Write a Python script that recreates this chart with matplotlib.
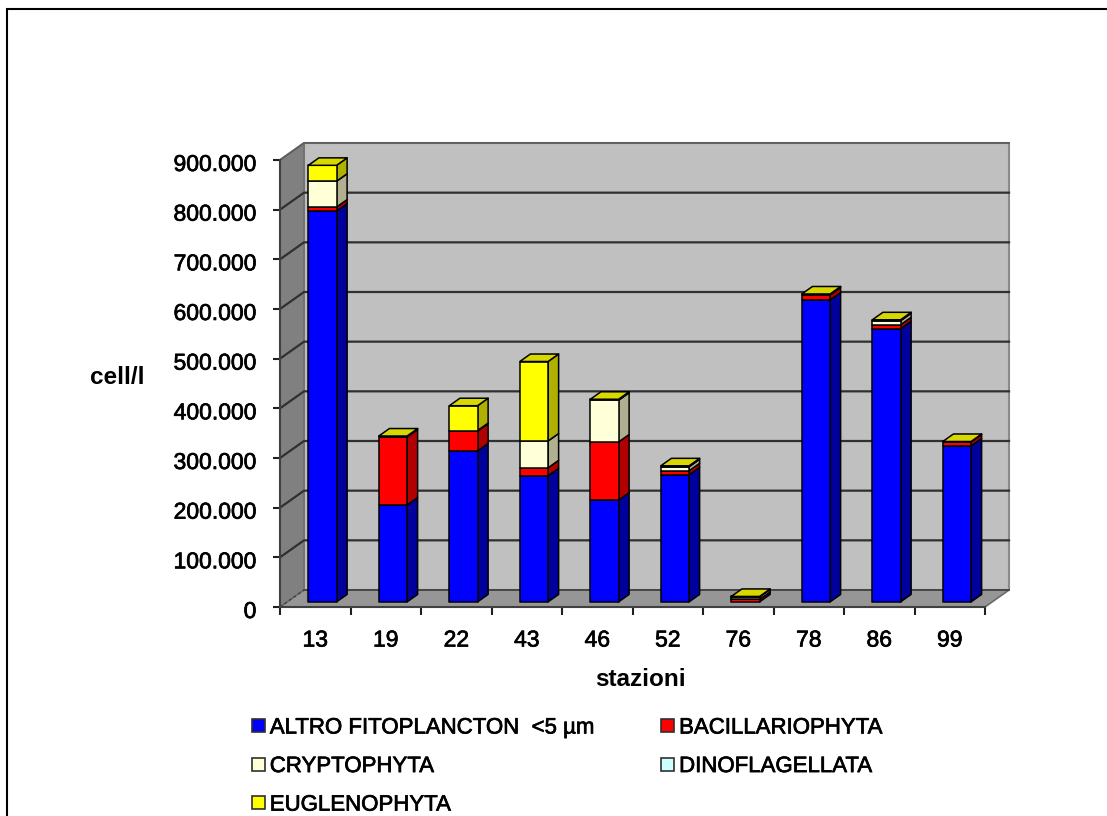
"""Stacked pseudo-3D bars of phytoplankton density per sampling station."""
import matplotlib
matplotlib.use('Agg')
import matplotlib.pyplot as plt
import matplotlib.patheffects as pe
from matplotlib.lines import Line2D
from matplotlib.patches import Polygon
from matplotlib.transforms import ScaledTranslation

stations = ['13', '19', '22', '43', '46', '52', '76', '78', '86', '99']
altro = [787000, 195000, 304000, 254000, 205000, 256000, 0, 608000, 550000, 314000]
bacillariophyta = [8000, 137000, 40000, 16000, 117000, 8000, 5000, 10000, 8000, 8000]
cryptophyta = [52000, 0, 1000, 54000, 84000, 8000, 5000, 0, 8000, 0]
dinoflagellata = [0, 0, 0, 0, 0, 0, 0, 0, 0, 0]
euglenophyta = [32000, 2000, 50000, 160000, 2000, 2000, 1000, 2000, 2000, 1000]

series = [
    ('ALTRO FITOPLANCTON  <5 µm', altro, '#0000FF', '#00009C'),
    ('BACILLARIOPHYTA', bacillariophyta, '#FF0000', '#B00000'),
    ('CRYPTOPHYTA', cryptophyta, '#FFFFD8', '#B0B090'),
    ('DINOFLAGELLATA', dinoflagellata, '#CCFFFF', '#90B0B0'),
    ('EUGLENOPHYTA', euglenophyta, '#FFFF00', '#B0B000'),
]
# legend reads row by row, matplotlib fills column by column
legend_order = [0, 2, 4, 1, 3]
top_colour = '#D8D800'
y_ticks = [0, 100000, 200000, 300000, 400000, 500000, 600000, 700000, 800000, 900000]
y_tick_labels = ['0', '100.000', '200.000', '300.000', '400.000', '500.000',
                 '600.000', '700.000', '800.000', '900.000']

plt.rcParams['font.family'] = ['Liberation Sans', 'DejaVu Sans']

W, H = 1107, 816
fig = plt.figure(figsize=(W / 100, H / 100), dpi=100)
# the axes rectangle is the front plane of the 3D box
ax = fig.add_axes([280 / W, 1 - 607 / H, 705 / W, 447 / H])
ax.set_xlim(0, 10)
ax.set_ylim(0, 900000)
ax.patch.set_visible(False)

# full box depth in data units
DX = 24 / 70.5
DY = 17 / 447 * 900000

# slightly heavier strokes for the regular-weight labels
heavy = [pe.withStroke(linewidth=0.5, foreground='black')]


def sheared(x, y, d):
    """Project a point of the front plane to depth d (0 front, 1 back)."""
    return (x + d * DX, y + d * DY)


def face(points, colour, z, edge='black', lw=1.1):
    ax.add_patch(Polygon(points, closed=True, facecolor=colour, edgecolor=edge,
                         linewidth=lw, zorder=z, clip_on=False, joinstyle='round'))


# walls and floor
face([sheared(0, 0, 1), sheared(10, 0, 1), sheared(10, 900000, 1), sheared(0, 900000, 1)],
     '#C0C0C0', 1, edge='#8A8A8A', lw=1.5)
face([sheared(0, 0, 0), sheared(0, 0, 1), sheared(0, 900000, 1), sheared(0, 900000, 0)],
     '#808080', 1, edge='#707070', lw=1.2)
face([sheared(0, 0, 0), sheared(10, 0, 0), sheared(10, 0, 1), sheared(0, 0, 1)],
     '#969696', 1, edge='#6A6A6A', lw=1.2)

# gridlines run over the side wall and along the back wall
for v in y_ticks[1:-1]:
    x0, y0 = sheared(0, v, 0)
    x1, y1 = sheared(0, v, 1)
    x2, y2 = sheared(10, v, 1)
    ax.plot([x0, x1, x2], [y0, y1, y2], color='#303030', lw=1.6, zorder=2,
            clip_on=False, solid_joinstyle='miter')
x1, y1 = sheared(0, 0, 1)
x2, y2 = sheared(10, 0, 1)
ax.plot([x1, x2], [y1, y2], color='#404040', lw=1.2, zorder=2, clip_on=False)
ax.plot([0, x1], [0, y1], color='#404040', lw=1.0, ls=(0, (2, 2)), zorder=2, clip_on=False)
x3, y3 = sheared(0, 900000, 1)
ax.plot([0, x3, x2], [900000, y3, y3], color='#606060', lw=1.4, zorder=2, clip_on=False)

# bars: depth range inside the box, front width in category units
D0, D1 = 0.30, 0.74
BAR_W = 0.40
for i in range(len(stations)):
    left = i + 0.5 - BAR_W / 2
    right = left + BAR_W
    base = 0
    for name, values, colour, side in series:
        v = values[i]
        if v == 0:
            continue
        top = base + v
        z = 3 + i
        # right-hand side face
        face([sheared(right, base, D0), sheared(right, base, D1),
              sheared(right, top, D1), sheared(right, top, D0)], side, z)
        # front face
        face([sheared(left, base, D0), sheared(right, base, D0),
              sheared(right, top, D0), sheared(left, top, D0)], colour, z + 0.1)
        base = top
    face([sheared(left, base, D0), sheared(right, base, D0),
          sheared(right, base, D1), sheared(left, base, D1)], top_colour, 3 + i + 0.2)

for spine in ['top', 'right']:
    ax.spines[spine].set_visible(False)
for spine in ['left', 'bottom']:
    ax.spines[spine].set_color('#404040')
    ax.spines[spine].set_linewidth(1.5)
    ax.spines[spine].set_zorder(2.5)

ax.set_yticks(y_ticks)
ax.set_yticklabels(y_tick_labels)
ax.set_xticks(range(11))
ax.set_xticklabels([])
ax.set_xticks([i + 0.5 for i in range(10)], minor=True)
ax.set_xticklabels(stations, minor=True)
ax.tick_params(axis='y', length=5, width=1.5, pad=12, labelsize=16.5, color='#202020')
ax.tick_params(axis='x', which='major', length=6, width=1.5, color='#202020')
ax.tick_params(axis='x', which='minor', length=0, pad=15.5, labelsize=16.5)

# y labels sit a touch below their ticks
down = ScaledTranslation(0, -2 / 100, fig.dpi_scale_trans)
for label in ax.get_yticklabels():
    label.set_transform(label.get_transform() + down)
    label.set_path_effects(heavy)
for label in ax.get_xticklabels(minor=True):
    label.set_path_effects(heavy)

fig.text(640 / W, 1 - 679 / H, 'stazioni', ha='center', va='center',
         fontsize=17.5, fontweight='bold', color='black')
fig.text(117 / W, 1 - 377 / H, 'cell/l', ha='center', va='center',
         fontsize=17.5, fontweight='bold', color='black')

handles = [Polygon([[0, 0]], facecolor=series[k][2], edgecolor='#303030', linewidth=1.2)
           for k in legend_order]
legend = fig.legend(handles, [series[k][0] for k in legend_order], ncol=2, loc='upper left',
                    bbox_to_anchor=(252 / W, 1 - 717.5 / H), frameon=False, fontsize=16,
                    handlelength=0.58, handleheight=0.55, handletextpad=0.22,
                    labelspacing=0.79, columnspacing=3.0, borderpad=0, borderaxespad=0)
for text in legend.get_texts():
    text.set_path_effects(heavy)

# outer frame: top and left edges only
fig.add_artist(Line2D([7 / W, 7 / W, 1], [0, 1 - 9 / H, 1 - 9 / H],
                      color='black', lw=1.5, solid_joinstyle='miter'))

fig.savefig('out.png', dpi=100)
